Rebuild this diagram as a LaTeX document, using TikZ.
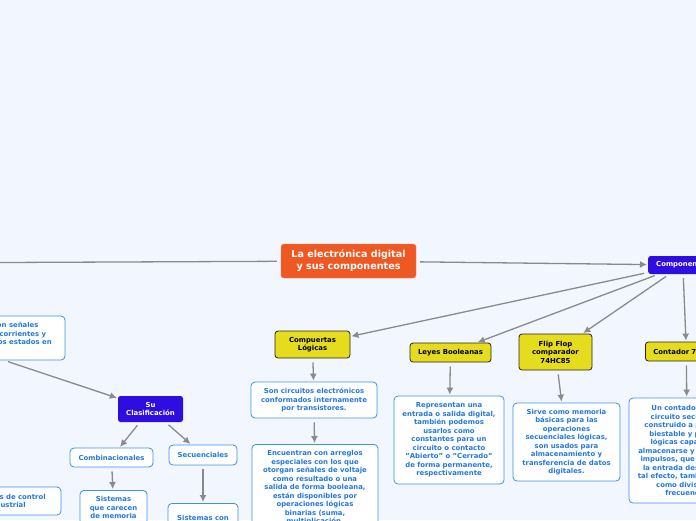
\documentclass[tikz,border=0pt]{standalone}
\usepackage{fontspec}
\setmainfont{DejaVu Sans}
\usepackage{tikz}
\usetikzlibrary{arrows.meta}
\definecolor{bgblue}{RGB}{242,246,254}
\definecolor{mainorange}{RGB}{240,88,35}
\definecolor{catpurple}{RGB}{46,13,224}
\definecolor{topicyellow}{RGB}{230,220,30}
\definecolor{noteblue}{RGB}{60,145,235}
\definecolor{notetext}{RGB}{35,120,225}
\definecolor{linkgray}{RGB}{138,138,140}
\tikzset{
  mainbox/.style={shape=rectangle, fill=mainorange, draw=mainorange!80!white, rounded corners=3pt, text=white, align=center, font=\fontsize{9.6}{11.7}\selectfont\bfseries},
  catbox/.style={shape=rectangle, fill=catpurple, rounded corners=2.5pt, text=white, align=center, font=\fontsize{6.9}{8.5}\selectfont\bfseries},
  topicbox/.style={shape=rectangle, fill=topicyellow, draw=black!85, line width=0.8pt, rounded corners=3pt, text=black, align=center, font=\fontsize{6.9}{8.5}\selectfont\bfseries},
  notebox/.style={shape=rectangle, fill=white, draw=noteblue, line width=0.8pt, rounded corners=4pt, text=notetext, align=center, font=\fontsize{6.9}{8.5}\selectfont\bfseries},
  arr/.style={draw=linkgray, line width=1.3pt, -{Latex[length=7pt,width=7pt]}, shorten <=4pt, shorten >=1pt}
}
\begin{document}
\begin{tikzpicture}[x=1pt, y=-1pt]
			% Frame:
			\useasboundingbox (0, 0) rectangle (696, 520);
			\fill[bgblue] (0, 0) rectangle (696, 520);
			\clip (0, 0) rectangle (696, 520);
			% Nodes:
			\coordinate (N0) at (-300, 263.8);
			\node[mainbox, minimum width=135pt, minimum height=34pt](N1) at (348.5, 261){La electrónica digital\\y sus componentes};
			\node[catbox, anchor=west, inner xsep=8pt, minimum height=18pt](N2) at (648, 265){Componentes};
			\node[topicbox, minimum width=75pt, minimum height=27pt](N3) at (312.5, 344.5){Compuertas\\Lógicas};
			\node[topicbox, minimum width=81pt, minimum height=19pt](N4) at (450.5, 352.5){Leyes Booleanas};
			\node[topicbox, minimum width=73pt, minimum height=36pt](N5) at (555.5, 352){Flip Flop\\comparador\\74HC85};
			\node[topicbox, anchor=west, text width=66pt, align=left, inner xsep=8pt, minimum height=19pt](N6) at (645, 351.5){Contador 7};
			\node[notebox, minimum width=126pt, minimum height=36pt](N7) at (314, 400){Son circuitos electrónicos\\conformados internamente\\por transistores.};
			\node[notebox, anchor=north, minimum width=126pt, inner ysep=6pt](N8) at (315, 444){Encuentran con arreglos\\especiales con los que\\otorgan señales de voltaje\\como resultado o una\\salida de forma booleana,\\están disponibles por\\operaciones lógicas\\binarias (suma,\\multiplicación,};
			\node[notebox, minimum width=110pt, minimum height=88pt](N9) at (449, 440){Representan una\\entrada o salida digital,\\también podemos\\usarlos como\\constantes para un\\circuito o contacto\\"Abierto" o "Cerrado"\\de forma permanente,\\respectivamente};
			\node[notebox, minimum width=107pt, minimum height=78pt](N10) at (566.5, 442){Sirve como memoria\\básicas para las\\operaciones\\secuenciales lógicas,\\son usados para\\almacenamiento y\\transferencia de datos\\digitales.};
			\node[notebox, minimum width=116pt, minimum height=105pt](N11) at (687, 450.5){Un contador es un\\circuito secuencial\\construido a partir de\\biestable y puertas\\lógicas capaces de\\almacenarse y contar los\\impulsos, que recibe en\\la entrada destinada a\\tal efecto, también actúa\\como divisor de\\frecuencia.};
			\node[notebox, minimum width=256pt, minimum height=44pt](N12) at (-63, 338){Es la rama de la electrónica que trabaja con señales\\digitales, con valores discretos de voltajes, corrientes y\\otras magnitudes que pueden adoptar solo dos estados en\\el sistema binario.};
			\node[catbox, minimum width=65pt, minimum height=26pt](N13) at (150.5, 409){Su\\Clasificación};
			\node[notebox, minimum width=83pt, minimum height=19pt](N14) at (111.5, 457.5){Combinacionales};
			\node[notebox, minimum width=68pt, minimum height=20pt](N15) at (203, 455){Secuenciales};
			\node[notebox, anchor=north, minimum width=67pt, inner ysep=6pt](N16) at (113.5, 490){Sistemas\\que carecen\\de memoria};
			\node[notebox, anchor=north, minimum width=70pt, minimum height=30pt, inner ysep=6pt](N17) at (203, 503){Sistemas con};
			\node[notebox, minimum width=108pt, minimum height=28pt](N18) at (7, 501){Sistemas de control\\industrial};
			% Connectors:
			\draw[arr] (N1) -- (N0);
			\draw[arr] (N1) -- (N2);
			\draw[arr] (N2) -- (N3);
			\draw[arr] (N2) -- (N4);
			\draw[arr] (N2) -- (N5);
			\draw[arr] (N2) -- (N6);
			\draw[arr] (N3) -- (N7);
			\draw[arr] (N7) -- (N8);
			\draw[arr] (N4) -- (N9);
			\draw[arr] (N5) -- (N10);
			\draw[arr] (N6) -- (N11);
			\draw[arr] (N12) -- (N13);
			\draw[arr] (N13) -- (N14);
			\draw[arr] (N13) -- (N15);
			\draw[arr] (N14) -- (N16);
			\draw[arr] (N15) -- (N17);
\end{tikzpicture}
\end{document}
